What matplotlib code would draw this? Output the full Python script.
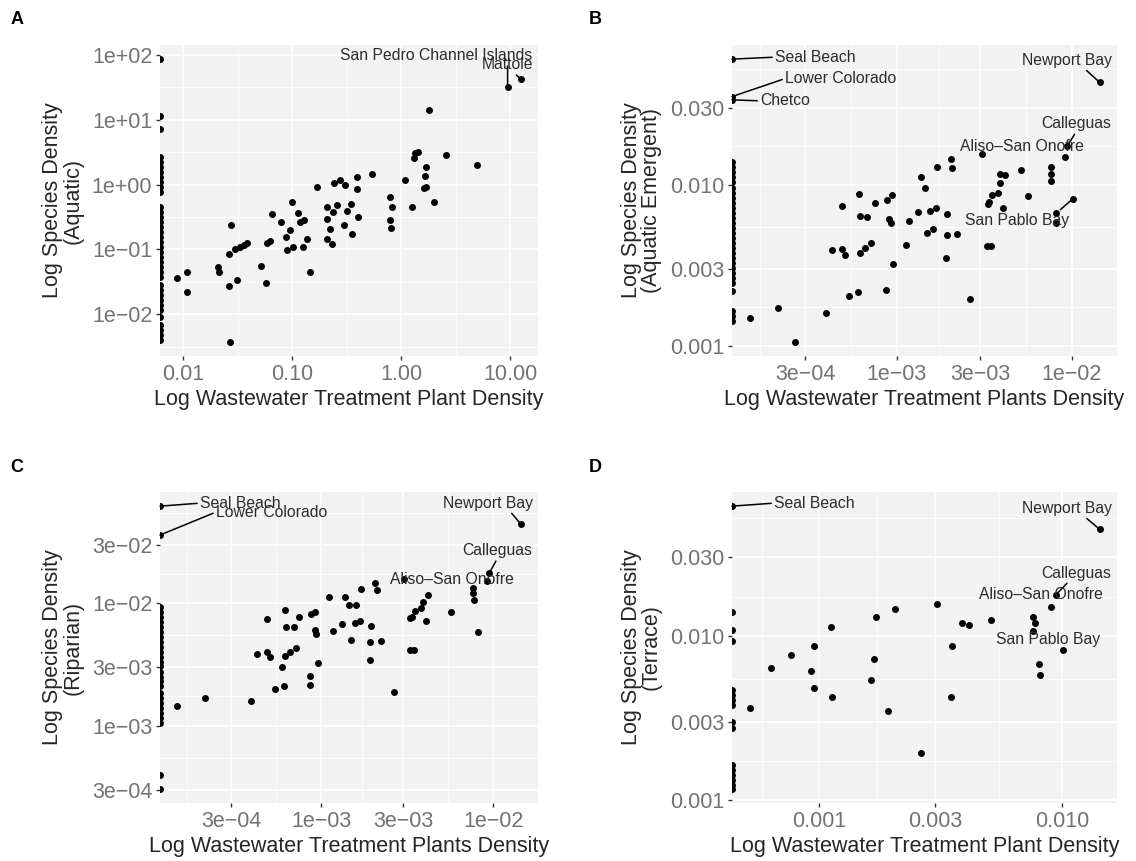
import numpy as np
import matplotlib
matplotlib.use("Agg")
import matplotlib.pyplot as plt
from matplotlib.ticker import FixedLocator, FixedFormatter, NullFormatter

plt.rcParams['font.family'] = ['Liberation Sans', 'DejaVu Sans']

# ---------------- Panel A (Aquatic) ----------------
a_x = [0.00875, 0.0108, 0.0107, 0.0207, 0.0214, 0.0275, 0.0261, 0.0261, 0.0310, 0.0300,
       0.0329, 0.0357, 0.0384, 0.0270, 0.0520, 0.0577, 0.0586, 0.0628, 0.0652, 0.0792,
       0.0874, 0.0893, 0.0959, 0.0993, 0.101, 0.113, 0.118, 0.125, 0.129, 0.136,
       0.146, 0.168, 0.208, 0.208, 0.208, 0.223, 0.231, 0.234, 0.239, 0.257,
       0.272, 0.296, 0.302, 0.318, 0.345, 0.353, 0.392, 0.392, 0.397, 0.538,
       0.792, 0.821, 0.782, 0.809, 1.09, 1.25, 1.30, 1.34, 1.41, 1.68,
       1.66, 1.63, 1.69, 1.81, 2.01, 2.57, 4.94]
a_y = [0.0367, 0.0448, 0.0220, 0.0534, 0.0448, 0.240, 0.0838, 0.0273, 0.0333, 0.102,
       0.109, 0.118, 0.125, 0.00375, 0.0547, 0.0303, 0.127, 0.134, 0.354, 0.263,
       0.155, 0.0966, 0.201, 0.534, 0.109, 0.367, 0.263, 0.109, 0.279, 0.146,
       0.0448, 0.910, 0.448, 0.296, 0.146, 0.208, 0.122, 0.375, 1.05, 0.492,
       1.19, 0.240, 0.99, 0.389, 0.505, 0.170, 1.33, 0.847, 0.314, 1.48,
       0.638, 0.448, 0.279, 0.216, 1.19, 0.448, 2.57, 3.03, 3.22, 1.89,
       1.37, 0.889, 0.91, 14.2, 0.541, 2.86, 2.03]
# sites with zero plant density (plotted at the panel edge, as log(0) = -Inf)
a_zero_y = [85.9, 11.5, 7.19, 2.63, 2.20, 1.85, 1.55, 1.30, 1.09, 0.910, 0.762,
            0.448, 0.375, 0.314, 0.263, 0.221, 0.185, 0.155, 0.130, 0.109, 0.0910,
            0.0762, 0.0638, 0.0534, 0.0448, 0.0375, 0.0279, 0.0234, 0.0196, 0.0164,
            0.0138, 0.0115, 0.0091, 0.0068, 0.0057, 0.0048, 0.0040]
a_lab_site = ["San Pedro Channel Islands", "Mattole"]
a_lab_x = [9.46, 12.5]
a_lab_y = [32.2, 42.7]

# ---------------- Panel B (Aquatic Emergent) ----------------
b_x = [1.44e-4, 2.09e-4, 2.61e-4, 3.94e-4, 4.26e-4, 4.86e-4, 4.86e-4, 5.07e-4, 5.30e-4, 6.04e-4,
       6.12e-4, 6.18e-4, 6.18e-4, 6.60e-4, 6.80e-4, 7.14e-4, 7.52e-4, 8.65e-4, 8.77e-4, 9.08e-4,
       9.25e-4, 9.37e-4, 9.57e-4, 1.13e-3, 1.17e-3, 1.32e-3, 1.37e-3, 1.45e-3, 1.48e-3, 1.55e-3,
       1.62e-3, 1.68e-3, 1.69e-3, 1.91e-3, 1.93e-3, 1.94e-3, 2.04e-3, 2.08e-3, 2.21e-3, 2.62e-3,
       3.05e-3, 3.26e-3, 3.47e-3, 3.30e-3, 3.37e-3, 3.52e-3, 3.79e-3, 3.88e-3, 3.88e-3, 4.14e-3,
       4.05e-3, 5.11e-3, 5.62e-3, 7.57e-3, 7.64e-3, 7.57e-3, 8.09e-3, 8.16e-3]
b_y = [0.00148, 0.00173, 0.00106, 0.00161, 0.00391, 0.00738, 0.00399, 0.00368, 0.00203, 0.00215,
       0.00875, 0.00377, 0.00640, 0.00405, 0.00634, 0.00438, 0.00774, 0.00222, 0.00804, 0.00611,
       0.00577, 0.00863, 0.00324, 0.00420, 0.00596, 0.00675, 0.0112, 0.00948, 0.00505, 0.00687,
       0.00532, 0.00720, 0.0129, 0.00351, 0.00489, 0.00656, 0.0144, 0.0127, 0.00496, 0.00196,
       0.0154, 0.00418, 0.00418, 0.00764, 0.00785, 0.00863, 0.00891, 0.0103, 0.0117, 0.0115,
       0.00720, 0.0124, 0.00851, 0.0129, 0.0117, 0.0106, 0.00671, 0.00577]
b_zero_y = [0.0138, 0.0129, 0.0120, 0.0112, 0.0104, 0.00948, 0.00884, 0.00823, 0.00767, 0.00714,
            0.00665, 0.00620, 0.00577, 0.00537, 0.00501, 0.00467, 0.00434, 0.00405, 0.00377,
            0.00351, 0.00327, 0.00305, 0.00284, 0.00264, 0.00246, 0.00218, 0.00164, 0.00153, 0.00143]
b_lab_site = ["Seal Beach", "Lower Colorado", "Chetco", "Newport Bay", "Calleguas",
              "Aliso–San Onofre", "San Pablo Bay"]
b_lab_x = [0, 0, 0, 0.0144, 9.43e-3, 9.10e-3, 0.0101]
b_lab_y = [0.0601, 0.0352, 0.0336, 0.0432, 0.0174, 0.0149, 0.00815]

# ---------------- Panel C (Riparian) ----------------
c_x = [1.45e-4, 2.10e-4, 3.92e-4, 4.24e-4, 4.80e-4, 4.84e-4, 5.06e-4, 5.41e-4, 5.91e-4, 6.04e-4,
       6.12e-4, 6.18e-4, 6.24e-4, 6.54e-4, 6.90e-4, 7.13e-4, 7.38e-4, 8.55e-4, 8.63e-4, 8.75e-4,
       9.23e-4, 9.14e-4, 9.31e-4, 9.57e-4, 1.11e-3, 1.17e-3, 1.32e-3, 1.38e-3, 1.44e-3, 1.58e-3,
       1.49e-3, 1.56e-3, 1.67e-3, 1.70e-3, 1.91e-3, 1.93e-3, 1.94e-3, 2.04e-3, 2.11e-3, 2.23e-3,
       2.63e-3, 3.04e-3, 3.29e-3, 3.48e-3, 3.29e-3, 3.36e-3, 3.51e-3, 3.81e-3, 3.89e-3, 4.07e-3,
       4.17e-3, 5.67e-3, 7.67e-3, 7.67e-3, 7.74e-3, 8.20e-3]
c_y = [0.00146, 0.00168, 0.00158, 0.00387, 0.00741, 0.00403, 0.00363, 0.00199, 0.00301, 0.00212,
       0.00372, 0.00883, 0.00638, 0.00403, 0.00638, 0.00430, 0.00780, 0.00257, 0.00216, 0.00820,
       0.00857, 0.00607, 0.00563, 0.00324, 0.01135, 0.00596, 0.00675, 0.01135, 0.00971, 0.00971,
       0.00503, 0.00689, 0.00720, 0.0130, 0.00345, 0.00487, 0.00654, 0.0148, 0.0129, 0.00493,
       0.00190, 0.0157, 0.00417, 0.00417, 0.00755, 0.00780, 0.00867, 0.00912, 0.01033, 0.00720,
       0.01172, 0.00857, 0.0133, 0.0121, 0.01066, 0.00581]
c_zero_y = [0.00941, 0.00857, 0.00780, 0.00710, 0.00646, 0.00588, 0.00535, 0.00487, 0.00443,
            0.00403, 0.00367, 0.00334, 0.00305, 0.00277, 0.00252, 0.00230, 0.00209, 0.00185,
            0.00168, 0.00153, 0.00139, 0.00127, 0.00115, 0.00106, 0.000397, 0.000304]
c_lab_site = ["Seal Beach", "Lower Colorado", "Newport Bay", "Calleguas", "Aliso–San Onofre"]
c_lab_x = [0, 0, 0.01446, 9.50e-3, 9.17e-3]
c_lab_y = [0.0624, 0.0362, 0.0445, 0.0178, 0.01533]

# ---------------- Panel D (Terrace) ----------------
d_x = [5.15e-4, 6.33e-4, 7.63e-4, 9.24e-4, 9.45e-4, 9.51e-4, 1.11e-3, 1.13e-3, 1.71e-3, 1.68e-3,
       1.63e-3, 1.92e-3, 2.05e-3, 2.61e-3, 3.04e-3, 3.50e-3, 3.47e-3, 3.87e-3, 4.13e-3, 5.07e-3,
       7.57e-3, 7.69e-3, 7.57e-3, 8.01e-3, 8.07e-3]
d_y = [0.00363, 0.00639, 0.00769, 0.00610, 0.00861, 0.00482, 0.0113, 0.00421, 0.0130, 0.00721,
       0.00536, 0.00348, 0.0146, 0.00194, 0.0155, 0.00868, 0.00421, 0.0119, 0.0116, 0.0125,
       0.0130, 0.0119, 0.0107, 0.00673, 0.00580]
d_zero_y = [0.0139, 0.0109, 0.00930, 0.00465, 0.00433, 0.00404, 0.00377, 0.00299, 0.00275,
            0.00163, 0.00152, 0.00142, 0.00133, 0.00124, 0.00117]
d_lab_site = ["Seal Beach", "Newport Bay", "Calleguas", "Aliso–San Onofre", "San Pablo Bay"]
d_lab_x = [0, 0.01422, 9.38e-3, 9.02e-3, 0.01004]
d_lab_y = [0.0615, 0.0445, 0.0177, 0.0150, 0.00821]

# ---------------- axis texts ----------------
a_xticks = [0.01, 0.1, 1, 10]
a_xticklabels = ["0.01", "0.10", "1.00", "10.00"]
a_yticks = [0.01, 0.1, 1, 10, 100]
a_yticklabels = ["1e−02", "1e−01", "1e+00", "1e+01", "1e+02"]
b_xticks = [3e-4, 1e-3, 3e-3, 1e-2]
b_xticklabels = ["3e−04", "1e−03", "3e−03", "1e−02"]
b_yticks = [0.001, 0.003, 0.01, 0.03]
b_yticklabels = ["0.001", "0.003", "0.010", "0.030"]
c_xticks = [3e-4, 1e-3, 3e-3, 1e-2]
c_xticklabels = ["3e−04", "1e−03", "3e−03", "1e−02"]
c_yticks = [3e-4, 1e-3, 3e-3, 1e-2, 3e-2]
c_yticklabels = ["3e−04", "1e−03", "3e−03", "1e−02", "3e−02"]
d_xticks = [0.001, 0.003, 0.01]
d_xticklabels = ["0.001", "0.003", "0.010"]
d_yticks = [0.001, 0.003, 0.01, 0.03]
d_yticklabels = ["0.001", "0.003", "0.010", "0.030"]

a_xlabel = "Log Wastewater Treatment Plant Density"
b_xlabel = "Log Wastewater Treatment Plants Density"
c_xlabel = "Log Wastewater Treatment Plants Density"
d_xlabel = "Log Wastewater Treatment Plant Density"
a_ylabel = "Log Species Density\n(Aquatic)"
b_ylabel = "Log Species Density\n(Aquatic Emergent)"
c_ylabel = "Log Species Density\n(Riparian)"
d_ylabel = "Log Species Density\n(Terrace)"

# label placement (style): offset in pixels (dx, dy), ha, segment start on text box
a_lab_style = [(-72, 31, 'center', (0.874, 0.0)), (-13, 14, 'center', (0.6, 0.0))]
b_lab_style = [(43, 2, 'left', (0.0, 0.5)), (53, 18, 'left', (0.0, 0.5)), (28, -1, 'left', (0.0, 0.5)),
               (-33, 22, 'center', (0.69, 0.0)), (9, 22, 'center', (0.5, 0.0)),
               (-43, 10, 'center', None), (-55, -21, 'center', (0.88, 1.0))]
c_lab_style = [(40, 3, 'left', (0.0, 0.5)), (56, 23, 'left', (0.0, 0.5)),
               (-33, 21, 'center', (0.74, 0.0)), (8, 22, 'center', (0.5, 0.0)),
               (-35, 1, 'center', None)]
d_lab_style = [(42, 3, 'left', (0.0, 0.5)), (-33, 21, 'center', (0.69, 0.0)),
               (21, 22, 'center', (0.4, 0.0)), (-11, 12, 'center', None), (-15, 10, 'center', None)]

W, H = 1136, 861
fig = plt.figure(figsize=(W / 100, H / 100), dpi=100)

panel_rects_px = {  # left, top, right, bottom in pixels
    'A': (160, 45, 538, 356),
    'B': (732, 45, 1117, 356),
    'C': (160, 492, 538, 803),
    'D': (732, 492, 1117, 803),
}
letter_pos_px = {'A': (17, 20), 'B': (595, 19), 'C': (17, 467), 'D': (595, 467)}

TICK_COLOR = '#737373'
PANEL_BG = '#F2F2F2'


def gg_log_limits(vals):
    v = np.asarray(vals, float)
    v = np.log10(v[v > 0])
    lo, hi = v.min(), v.max()
    pad = 0.05 * (hi - lo)
    return 10 ** (lo - pad), 10 ** (hi + pad)


def minor_breaks(majors, lim):
    b = np.log10(majors)
    llo, lhi = np.log10(lim)
    b = b[(b >= llo) & (b <= lhi)]
    bd = b[1] - b[0]
    if llo < b.min():
        b = np.concatenate([[b[0] - bd], b])
    if lhi > b.max():
        b = np.concatenate([b, [b[-1] + bd]])
    mids = (b[:-1] + b[1:]) / 2
    mids = mids[(mids >= llo) & (mids <= lhi)]
    return 10 ** mids


def make_panel(key, xs, ys, zero_y, lab_site, lab_x, lab_y, lab_style,
               xticks, xticklabels, yticks, yticklabels, xlabel, ylabel):
    l, t, r, b = panel_rects_px[key]
    ax = fig.add_axes([l / W, 1 - b / H, (r - l) / W, (b - t) / H])
    all_x = np.array(list(xs) + [0.0] * len(zero_y) + list(lab_x), float)
    all_y = np.array(list(ys) + list(zero_y) + list(lab_y), float)
    xlim = gg_log_limits(all_x)
    ylim = gg_log_limits(all_y)
    ax.set_xscale('log')
    ax.set_yscale('log')
    ax.set_xlim(xlim)
    ax.set_ylim(ylim)
    ax.set_facecolor(PANEL_BG)
    for s in ax.spines.values():
        s.set_visible(False)

    px = np.where(all_x > 0, all_x, xlim[0])
    ax.scatter(px, all_y, s=25, color='black', linewidths=0, zorder=3)

    ax.xaxis.set_major_locator(FixedLocator(xticks))
    ax.xaxis.set_major_formatter(FixedFormatter(xticklabels))
    ax.yaxis.set_major_locator(FixedLocator(yticks))
    ax.yaxis.set_major_formatter(FixedFormatter(yticklabels))
    ax.xaxis.set_minor_locator(FixedLocator(minor_breaks(xticks, xlim)))
    ax.yaxis.set_minor_locator(FixedLocator(minor_breaks(yticks, ylim)))
    ax.xaxis.set_minor_formatter(NullFormatter())
    ax.yaxis.set_minor_formatter(NullFormatter())
    ax.tick_params(which='major', length=3, width=1.0, color='#333333',
                   labelsize=15.5, labelcolor=TICK_COLOR, pad=2.5)
    ax.tick_params(which='minor', length=0)
    ax.grid(which='major', color='white', lw=1.3)
    ax.grid(which='minor', color='white', lw=0.6)
    ax.set_axisbelow(True)
    ax.set_xlabel(xlabel, fontsize=15.5, color='#262626', labelpad=3)
    ax.set_ylabel(ylabel, fontsize=15.5, color='#262626', labelpad=6, linespacing=0.95)

    n0 = len(xs) + len(zero_y)
    for i, name in enumerate(lab_site):
        xx, yy = px[n0 + i], all_y[n0 + i]
        dx, dy, ha, rel = lab_style[i]
        kw = {}
        if rel is not None:
            kw['arrowprops'] = dict(arrowstyle='-', color='black', lw=1.1,
                                    shrinkA=0, shrinkB=0, relpos=rel)
        ax.annotate(name, xy=(xx, yy), xytext=(dx, dy), textcoords='offset pixels',
                    ha=ha, va='center', fontsize=11.3, color='#2b2b2b',
                    annotation_clip=False, zorder=4, **kw)

    lx, ly = letter_pos_px[key]
    fig.text(lx / W, 1 - ly / H, key, fontsize=13, fontweight='bold',
             ha='center', va='center')
    return ax


make_panel('A', a_x, a_y, a_zero_y, a_lab_site, a_lab_x, a_lab_y, a_lab_style,
           a_xticks, a_xticklabels, a_yticks, a_yticklabels, a_xlabel, a_ylabel)
make_panel('B', b_x, b_y, b_zero_y, b_lab_site, b_lab_x, b_lab_y, b_lab_style,
           b_xticks, b_xticklabels, b_yticks, b_yticklabels, b_xlabel, b_ylabel)
make_panel('C', c_x, c_y, c_zero_y, c_lab_site, c_lab_x, c_lab_y, c_lab_style,
           c_xticks, c_xticklabels, c_yticks, c_yticklabels, c_xlabel, c_ylabel)
make_panel('D', d_x, d_y, d_zero_y, d_lab_site, d_lab_x, d_lab_y, d_lab_style,
           d_xticks, d_xticklabels, d_yticks, d_yticklabels, d_xlabel, d_ylabel)

fig.savefig('out.png', dpi=100, facecolor='white')
